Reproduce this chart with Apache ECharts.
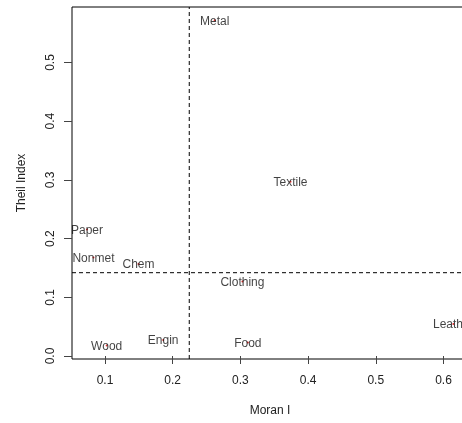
<!DOCTYPE html>
<html>
<head>
<meta charset="utf-8">
<script src="https://cdn.jsdelivr.net/npm/echarts@6/dist/echarts.min.js"></script>
<style>
  html, body { margin: 0; padding: 0; background: #fff; }
  #chart { width: 462px; height: 423px; }
</style>
</head>
<body>
<div id="chart"></div>
<script>
// Industries: spatial autocorrelation (Moran I) vs. concentration (Theil index)
const industries = ['Metal', 'Textile', 'Paper', 'Nonmet', 'Chem', 'Clothing', 'Wood', 'Engin', 'Food', 'Leather'];
const moranI     = [0.262, 0.374, 0.0734, 0.083, 0.1495, 0.303, 0.1025, 0.186, 0.311, 0.6145];
const theilIndex = [0.572, 0.297, 0.2155, 0.1678, 0.1567, 0.1269, 0.0179, 0.0273, 0.023, 0.0545];

// Reference cut-offs drawn as dashed lines
const moranCut = 0.2245;
const theilCut = 0.1419;

// Axis extents
const xRange = [0.0513, 0.6362];
const yRange = [-0.0051, 0.5945];

// Tick positions
const xTicks = [0.1, 0.2, 0.3, 0.4, 0.5, 0.6];
const yTicks = [0.0, 0.1, 0.2, 0.3, 0.4, 0.5];

const FONT = '"Liberation Sans", Arial, sans-serif';

const points = industries.map((name, i) => ({ name, value: [moranI[i], theilIndex[i]] }));

const dashed = { color: '#000', type: [4, 3], width: 1 };
const cutLine = (data) => ({
  type: 'line',
  data,
  symbol: 'none',
  silent: true,
  z: 1,
  lineStyle: dashed
});

const chart = echarts.init(document.getElementById('chart'), null, { renderer: 'canvas' });

chart.setOption({
  animation: false,
  backgroundColor: '#ffffff',
  grid: {
    left: 72, top: 7, width: 396, height: 352,
    outerBoundsMode: 'none',
    containLabel: false,
    show: true, borderColor: '#000', borderWidth: 1, backgroundColor: 'transparent'
  },
  xAxis: {
    type: 'value',
    min: xRange[0], max: xRange[1],
    name: 'Moran I',
    nameLocation: 'middle',
    nameGap: 46,
    nameTextStyle: { color: '#222', fontSize: 12, fontFamily: FONT },
    axisLine: { show: false },
    splitLine: { show: false },
    axisTick: { show: true, length: 8, inside: false, customValues: xTicks, lineStyle: { color: '#444' } },
    axisLabel: {
      customValues: xTicks, margin: 16, color: '#222', fontSize: 12, fontFamily: FONT,
      formatter: v => v.toFixed(1)
    }
  },
  yAxis: {
    type: 'value',
    min: yRange[0], max: yRange[1],
    name: 'Theil Index',
    nameLocation: 'middle',
    nameGap: 44,
    nameRotate: 90,
    nameTextStyle: { color: '#222', fontSize: 12, fontFamily: FONT },
    axisLine: { show: false },
    splitLine: { show: false },
    axisTick: { show: true, length: 8, inside: false, customValues: yTicks, lineStyle: { color: '#444' } },
    axisLabel: {
      customValues: yTicks, margin: 15, rotate: 90, color: '#222', fontSize: 12, fontFamily: FONT,
      formatter: v => v.toFixed(1)
    }
  },
  series: [
    cutLine([[moranCut, yRange[0]], [moranCut, yRange[1]]]),
    cutLine([[xRange[0], theilCut], [xRange[1], theilCut]]),
    {
      type: 'scatter',
      data: points,
      z: 3,
      symbol: 'circle',
      symbolSize: 2,
      itemStyle: { color: '#e00000' },
      label: {
        show: true,
        position: 'inside',
        offset: [0, 1],
        formatter: p => p.name,
        color: '#111',
        fontSize: 12,
        fontFamily: FONT
      }
    }
  ]
});
</script>
</body>
</html>
